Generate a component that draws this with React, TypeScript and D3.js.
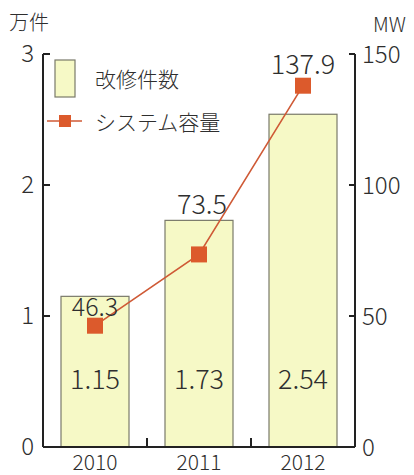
import React from "react";
import * as d3 from "d3";

const years = ["2010", "2011", "2012"];
const counts = [1.15, 1.73, 2.54];
const capacity = [46.3, 73.5, 137.9];
const leftTicks = [0, 1, 2, 3];
const rightTicks = [0, 50, 100, 150];

const W = 414, H = 475;
const x0 = 43, x1 = 355, yTop = 54, yBot = 447;
const FONT = "'Noto Sans CJK JP', 'Noto Sans', sans-serif";
const TXT = "#2e2e2e";
const labelOffset = [-21, -52, -23];

export default function App() {
  const x = d3.scaleBand<string>().domain(years).range([x0, x1]).paddingInner(0).paddingOuter(0);
  const yL = d3.scaleLinear().domain([0, 3]).range([yBot, yTop]);
  const yR = d3.scaleLinear().domain([0, 150]).range([yBot, yTop]);
  const barW = 68;
  const cx = (d: string) => (x(d) as number) + x.bandwidth() / 2;
  const line = d3.line<number>().x((_, i) => cx(years[i])).y((d) => yR(d));

  return (
    <svg width={W} height={H} style={{ position: "absolute", left: 0, top: 0, background: "#fff" }} fontFamily={FONT} fontWeight={300}>
      {counts.map((v, i) => (
        <rect key={i} x={cx(years[i]) - barW / 2} y={yL(v)} width={barW} height={yBot - yL(v)}
          fill="#f6f9c6" stroke="#7a7a6a" strokeWidth={1.2} />
      ))}
      {counts.map((v, i) => (
        <text key={"c" + i} x={cx(years[i])} y={377} textAnchor="middle" dominantBaseline="central"
          fontSize={27} fill={TXT}>{v.toFixed(2)}</text>
      ))}
      <path d={line(capacity) || ""} fill="none" stroke="#cf5a36" strokeWidth={1.6} />
      {capacity.map((v, i) => (
        <rect key={"m" + i} x={cx(years[i]) - 8} y={yR(v) - 8} width={16} height={16} fill="#dc5a2c" />
      ))}
      {capacity.map((v, i) => (
        <text key={"l" + i} x={cx(years[i]) + (i === 1 ? 3 : 0)} y={yR(v) + labelOffset[i]} textAnchor="middle" dominantBaseline="central"
          fontSize={i === 0 ? 25 : 27} fill={TXT}>{v.toFixed(1)}</text>
      ))}
      <line x1={x0} y1={yTop} x2={x0} y2={yBot} stroke="#222" strokeWidth={2} />
      <line x1={x1} y1={yTop} x2={x1} y2={yBot} stroke="#222" strokeWidth={2} />
      <line x1={x0} y1={yBot} x2={x1} y2={yBot} stroke="#222" strokeWidth={2} />
      {leftTicks.map((t) => (
        <g key={"lt" + t}>
          {t > 0 && <line x1={x0} x2={x0 + 7} y1={yL(t)} y2={yL(t)} stroke="#222" strokeWidth={2} />}
          <text x={34} y={yL(t) - 3} textAnchor="end" dominantBaseline="central" fontSize={24} fill={TXT}>{t}</text>
        </g>
      ))}
      {rightTicks.map((t) => (
        <g key={"rt" + t}>
          {t > 0 && <line x1={x1 - 6} x2={x1} y1={yR(t)} y2={yR(t)} stroke="#222" strokeWidth={2} />}
          <text x={362} y={yR(t) - 2} textAnchor="start" dominantBaseline="central" fontSize={24} fill={TXT}>{t}</text>
        </g>
      ))}
      {years.slice(1).map((y) => (
        <line key={"ct" + y} x1={x(y) as number} x2={x(y) as number} y1={yBot} y2={yBot - 9} stroke="#222" strokeWidth={2} />
      ))}
      {years.map((y) => (
        <text key={"yl" + y} x={cx(y)} y={470} textAnchor="middle" fontSize={21} fill={TXT}>{y}</text>
      ))}
      <text x={9} y={21} dominantBaseline="central" fontSize={20} fill={TXT}>万件</text>
      <text x={373} y={23} dominantBaseline="central" fontSize={20} fill={TXT}>MW</text>
      <rect x={55} y={60} width={20} height={37} fill="#f6f9c6" stroke="#7a7a6a" strokeWidth={1.2} />
      <text x={95} y={78} dominantBaseline="central" fontSize={21} fill={TXT}>改修件数</text>
      <line x1={47} x2={82} y1={121} y2={121} stroke="#cf5a36" strokeWidth={1.6} />
      <rect x={59} y={115} width={12} height={12} fill="#dc5a2c" />
      <text x={95} y={121} dominantBaseline="central" fontSize={21} fill={TXT}>システム容量</text>
    </svg>
  );
}
